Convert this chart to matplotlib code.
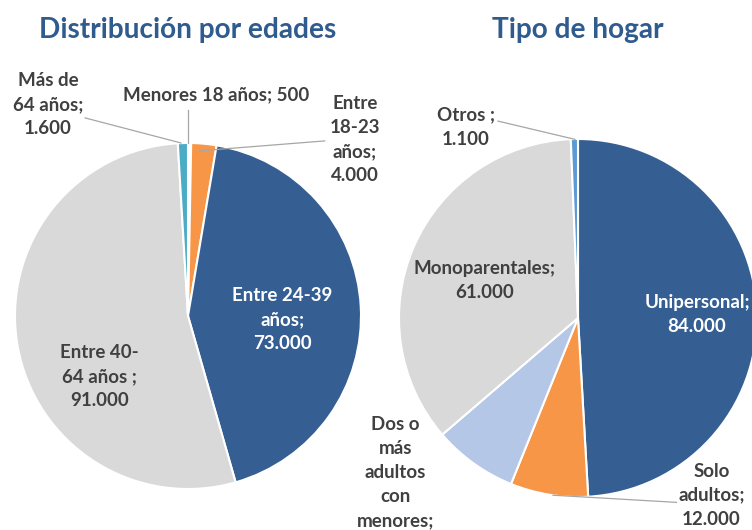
import matplotlib
matplotlib.use("Agg")
import matplotlib.pyplot as plt

plt.rcParams["font.family"] = ["Lato", "DejaVu Sans"]

# --- data ---
edad_names = ["Menores 18 años;", "Entre\n18-23\naños;", "Entre 24-39\naños;",
              "Entre 40-\n64 años ;", "Más de\n64 años;"]
edad_values = [500, 4000, 73000, 91000, 1600]

hogar_names = ["Unipersonal;", "Solo\nadultos;", "Dos o\nmás\nadultos\ncon\nmenores;",
               "Monoparentales;", "Otros ;"]
hogar_values = [84000, 12000, 13000, 61000, 1100]

# --- styles / layout ---
edad_colors = ["#FFFFFF", "#F79646", "#355F93", "#D9D9D9", "#4BACC6"]
edad_seps = [" ", "\n", "\n", "\n", "\n"]
edad_txt_color = ["#404040", "#404040", "white", "#404040", "#404040"]
edad_pos = [(0.16, 1.28), (0.965, 1.02), (0.545, -0.02), (-0.51, -0.35), (-0.81, 1.22)]
edad_lines = [((0.0, 1.19), (0.0, 1.0)), ((0.79, 1.012), (0.07, 0.955)), None, None,
              ((-0.595, 1.145), (-0.04, 1.0))]

hogar_colors = ["#355F93", "#F79646", "#B4C7E7", "#D9D9D9", "#5B9BD5"]
hogar_seps = ["\n", "\n", "\n", "\n", "\n"]
hogar_txt_color = ["white", "#404040", "#404040", "#404040", "#404040"]
hogar_pos = [(0.665, 0.017), (0.745, -0.99), (-1.02, -0.93), (-0.52, 0.21), (-0.626, 1.067)]
hogar_lines = [None, ((0.55, -1.03), (-0.14, -0.99)), None, None,
               ((-0.447, 1.10), (-0.017, 0.998))]

TITLE_COLOR = "#2F5B8E"
LINE_COLOR = "#A6A6A6"
W, H = 752, 530


def fmt(v):
    return f"{v:,}".replace(",", ".")


fig = plt.figure(figsize=(W / 100, H / 100), dpi=100)


def draw_pie(cx, cy, r, values, colors, names, seps, tcolors, positions, lines, title):
    ax = fig.add_axes([(cx - r) / W, (H - cy - r) / H, 2 * r / W, 2 * r / H])
    ax.pie(values, colors=colors, startangle=90, counterclock=False, radius=1,
           wedgeprops=dict(edgecolor="white", linewidth=1.5, clip_on=False))
    ax.set_xlim(-1, 1)
    ax.set_ylim(-1, 1)
    ax.axis("off")
    for name, sep, v, c, (x, y), ln in zip(names, seps, values, tcolors, positions, lines):
        ax.text(x, y, f"{name}{sep}{fmt(v)}", ha="center", va="center", color=c,
                fontsize=13.5, fontweight="bold", linespacing=1.5, clip_on=False)
        if ln is not None:
            (x0, y0), (x1, y1) = ln
            ax.plot([x0, x1], [y0, y1], color=LINE_COLOR, lw=0.9, clip_on=False)
    fig.text(cx / W, 1 - 30 / H, title, ha="center", va="center", color=TITLE_COLOR,
             fontsize=20.2, fontweight="bold")
    return ax


draw_pie(188, 316, 173, edad_values, edad_colors, edad_names, edad_seps, edad_txt_color,
         edad_pos, edad_lines, "Distribución por edades")
draw_pie(578, 318, 179, hogar_values, hogar_colors, hogar_names, hogar_seps, hogar_txt_color,
         hogar_pos, hogar_lines, "Tipo de hogar")

fig.savefig("out.png", dpi=100)
